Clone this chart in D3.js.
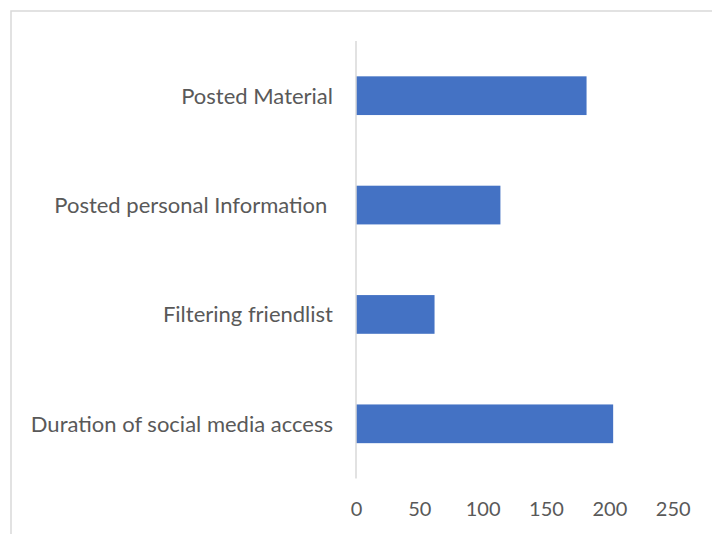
<!DOCTYPE html>
<html>
<head>
<meta charset="utf-8">
<script src="https://cdn.jsdelivr.net/npm/d3@7"></script>
<style>
  html, body { margin: 0; padding: 0; background: #fff; }
  svg { display: block; }
  text { font-family: Lato, "Open Sans", sans-serif; fill: #595959; white-space: pre; }
</style>
</head>
<body>
<svg id="chart" width="712" height="534"></svg>
<script>
// Categories, listed bottom to top as they appear on the chart
const categories = [
  "Duration of social media access",
  "Filtering friendlist",
  "Posted personal Information ",
  "Posted Material"
];
const values = [203, 62, 114, 182];
const tickValues = [0, 50, 100, 150, 200, 250];

const svg = d3.select("#chart");
const W = 712, H = 534;

// Chart area frame
svg.append("rect")
  .attr("x", 11).attr("y", 11)
  .attr("width", W + 10).attr("height", H + 10)
  .attr("fill", "#fff")
  .attr("stroke", "#d9d9d9")
  .attr("stroke-width", 1.5);

const plot = { left: 356, right: 672.7, top: 41, bottom: 478.5 };

const x = d3.scaleLinear().domain([0, 250]).range([plot.left, plot.right]);
const y = d3.scaleBand()
  .domain(categories.slice().reverse())
  .range([plot.top, plot.bottom])
  .paddingInner(0.646)
  .paddingOuter(0.323);

// Bars
svg.append("g").selectAll("rect")
  .data(categories.map((c, i) => ({ c, v: values[i] })))
  .join("rect")
  .attr("x", x(0))
  .attr("y", d => y(d.c))
  .attr("width", d => x(d.v) - x(0))
  .attr("height", y.bandwidth())
  .attr("fill", "#4472c4");

// Vertical category axis line
svg.append("line")
  .attr("x1", x(0)).attr("x2", x(0))
  .attr("y1", plot.top).attr("y2", plot.bottom)
  .attr("stroke", "#d9d9d9")
  .attr("stroke-width", 1.5);

// Category labels
const yAxis = d3.axisLeft(y).tickSize(0).tickPadding(23);
const gy = svg.append("g").attr("transform", `translate(${x(0)},0)`).call(yAxis);
gy.select(".domain").remove();
gy.selectAll("text")
  .attr("dy", "0.36em")
  .style("font-size", "22px")
  .attr("fill", "#595959");

// Value axis labels
const xAxis = d3.axisBottom(x).tickValues(tickValues).tickSize(0).tickPadding(0);
const gx = svg.append("g").attr("transform", `translate(0,502)`).call(xAxis);
gx.select(".domain").remove();
gx.selectAll("text")
  .attr("dy", "0.72em")
  .style("font-size", "20px")
  .attr("fill", "#595959");
</script>
</body>
</html>
